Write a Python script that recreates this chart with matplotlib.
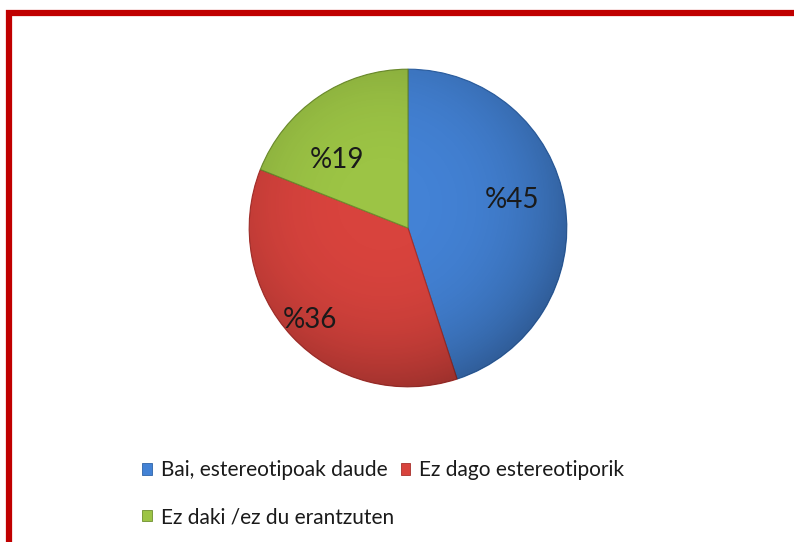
import numpy as np
import matplotlib
matplotlib.use("Agg")
import matplotlib.pyplot as plt
from matplotlib.patches import Rectangle, Patch, Circle

# answer shares (percent)
labels = ["Bai, estereotipoak daude", "Ez dago estereotiporik", "Ez daki /ez du erantzuten"]
values = [45, 36, 19]
pct_text = ["%45", "%36", "%19"]
colors = ["#4382D5", "#D8433D", "#9CC445"]
edges = ["#2E63A8", "#A8302C", "#6E8F2E"]

plt.rcParams['font.family'] = ['Lato', 'DejaVu Sans']

fig = plt.figure(figsize=(7.94, 5.42), dpi=100)
fig.patch.set_facecolor("white")

# red frame, runs off the right and bottom edges
W, H = 794, 542
fig.patches.append(Rectangle((8.5 / W, -0.05), 1.2, 1 - 13 / H + 0.05,
                             transform=fig.transFigure, fill=False,
                             edgecolor="#C00000", linewidth=4.5))

ax = fig.add_axes([246 / W, 1 - 390 / H, 324 / W, 324 / H])
wedges, _ = ax.pie(values, colors=colors, startangle=90, counterclock=False,
                   radius=1, wedgeprops=dict(linewidth=0.8))
for w, ec in zip(wedges, edges):
    w.set_edgecolor(ec)

# soft shading toward the rim, like the bevelled original
yy, xx = np.mgrid[-1:1:300j, -1:1:300j]
rr = np.clip(np.hypot(xx + 0.15, yy - 0.15), 0, 1.2)
shade = np.zeros((300, 300, 4))
shade[..., 3] = 0.16 * rr ** 3
im = ax.imshow(shade, extent=(-1, 1, -1, 1), origin="lower", zorder=2)
im.set_clip_path(Circle((0, 0), 1, transform=ax.transData))

# label placement: radius and angle shift for each slice
lab_r = [0.68, 0.85, 0.62]
lab_da = [6, 0, 12]
for w, t, r, da in zip(wedges, pct_text, lab_r, lab_da):
    ang = np.deg2rad((w.theta1 + w.theta2) / 2 + da)
    ax.text(r * np.cos(ang), r * np.sin(ang), t, ha="center", va="center",
            fontsize=20, color="#1a1a1a", zorder=4)
ax.set_xlim(-1.02, 1.02)
ax.set_ylim(-1.02, 1.02)
ax.axis("off")

# legend flows in rows: Bai | Ez dago, then Ez daki
handles = [Patch(facecolor=c, edgecolor=e, linewidth=0.6) for c, e in zip(colors, edges)]
order = [0, 2, 1]
leg = fig.legend([handles[i] for i in order], [labels[i] for i in order],
                 ncol=2, loc="upper left", bbox_to_anchor=(132 / W, 1 - 450 / H),
                 frameon=False, fontsize=15, handlelength=0.45, handleheight=0.45,
                 handletextpad=0.45, columnspacing=0.3, labelspacing=1.28,
                 borderpad=0)
for t in leg.get_texts():
    t.set_color("#1a1a1a")

fig.savefig("out.png", dpi=100, facecolor="white")
